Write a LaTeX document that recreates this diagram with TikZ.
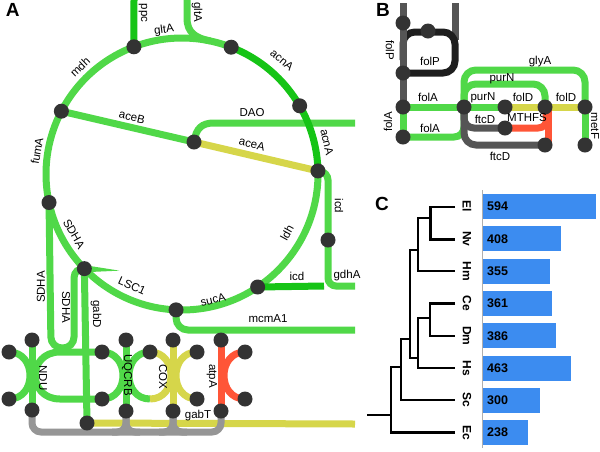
\documentclass[tikz,border=0pt]{standalone}
\usepackage{fontspec}
\setmainfont{Liberation Sans}
\usetikzlibrary{calc}
\pgfdeclarelayer{bg}
\pgfsetlayers{bg,main}
\definecolor{lg}{RGB}{80,216,72}
\definecolor{dg}{RGB}{22,196,22}
\definecolor{yl}{RGB}{214,214,74}
\definecolor{rd}{RGB}{255,85,55}
\definecolor{gr}{RGB}{150,150,150}
\definecolor{dotc}{RGB}{51,51,51}
\definecolor{bgr}{RGB}{85,85,85}
\definecolor{blk}{RGB}{30,30,30}
\definecolor{barc}{RGB}{60,140,240}
\definecolor{axc}{RGB}{175,175,175}
\begin{document}
\begin{tikzpicture}[x=1pt,y=-1pt,
 ln/.style={line width=7pt},
 lgl/.style={ln, draw=lg},
 dgl/.style={ln, draw=dg},
 yll/.style={ln, draw=yl},
 rdl/.style={ln, draw=rd},
 grl/.style={ln, draw=gr},
 bgl/.style={ln, draw=bgr},
 bkl/.style={ln, draw=blk},
 dot/.style={circle, fill=dotc, minimum size=15pt, inner sep=0pt},
 lbl/.style={font=\fontsize{11.5}{13}\selectfont, inner sep=0pt},
 plabel/.style={font=\fontsize{19}{22}\selectfont\bfseries, inner sep=0pt},
 num/.style={font=\fontsize{12.5}{14}\selectfont\bfseries, inner sep=0pt, anchor=west},
 sp/.style={font=\fontsize{12}{14}\selectfont\bfseries, inner sep=0pt, rotate=-90},
 tree/.style={line width=2.3pt, draw=black},
]
\useasboundingbox (0,0) rectangle (600,451);
\begin{pgfonlayer}{bg}
\fill[white] (0,0) rectangle (600,451);
\end{pgfonlayer}

% ---------------- Panel A nodes ----------------
\coordinate (C) at (182,174);
\node[dot] (gl) at ([shift={(C)}]-110.7:136) {};
\node[dot] (ac1) at ([shift={(C)}]-68.8:136) {};
\node[dot] (ac2) at ([shift={(C)}]-30.1:136) {};
\node[dot] (aa) at ([shift={(C)}]-1.3:136) {};
\node[dot] (ld) at ([shift={(C)}]56.2:136) {};
\node[dot] (su) at ([shift={(C)}]92.5:136) {};
\node[dot] (sd) at ([shift={(C)}]135.9:136) {};
\node[dot] (fu) at ([shift={(C)}]167.9:136) {};
\node[dot] (md) at ([shift={(C)}]207.5:136) {};
\node[dot] (xj) at (194,142) {};
\node[dot] (ic) at (328,240) {};
\node[dot] (gd) at (87,423) {};
\node[dot] (ndut) at (32,340) {};
\node[dot] (ndub) at (32,410) {};
\node[dot] (nduul) at (9,352) {};
\node[dot] (ndull) at (9,399) {};
\node[dot] (uqt) at (126,340) {};
\node[dot] (uqb) at (126,411) {};
\node[dot] (uqul) at (102,352) {};
\node[dot] (uqll) at (102,399) {};
\node[dot] (cxul) at (150,352) {};
\node[dot] (cxt) at (173,340) {};
\node[dot] (cxb) at (173,411) {};
\node[dot] (cxur) at (197,352) {};
\node[dot] (cxlr) at (197,399) {};
\node[dot] (att) at (221,340) {};
\node[dot] (atb) at (221,411) {};
\node[dot] (atur) at (245,352) {};
\node[dot] (atlr) at (245,399) {};
\coordinate (ppcT) at (134,0);
\coordinate (gltT) at (187,0);
\coordinate (gltJ) at ([shift={(C)}]-78:136);
\coordinate (daoE) at (355,123);
\coordinate (gdhE) at (355,286);
\coordinate (mcmE) at (355,330);
\coordinate (gabE) at (355,424);
\coordinate (cxv) at (150,399);

\begin{pgfonlayer}{bg}
\draw[lgl] (xj.center) .. controls (196,128) and (202,123) .. (214,123) -- (daoE);
\draw[dgl] (ppcT) -- (gl.center);
\draw[lgl] (gltT) -- (187,18) .. controls (187,33) and (196,38) .. (gltJ);
% circle
\draw[lgl] (gl.center) arc[start angle=-110.7, end angle=-68.8, radius=136];
\draw[dgl] (ac1.center) arc[start angle=-68.8, end angle=-30.1, radius=136];
\draw[dgl] (ac2.center) arc[start angle=-30.1, end angle=-1.3, radius=136];
\draw[lgl] (aa.center) arc[start angle=-1.3, end angle=249.3, radius=136];
% chords
\draw[lgl] (md.center) -- (xj.center);
\draw[yll] (xj.center) -- (aa.center);
\draw[dgl] (ld.center) -- (324,286);
\draw[lgl, rounded corners=8pt] (aa.center) -- (328,172) -- (328,286) -- (gdhE);
\draw[lgl, rounded corners=12pt] (su.center) -- (176,330) -- (mcmE);
\draw[lgl, rounded corners=11pt] (fu.center) -- (51,348) -- (74,348) -- (74,267) -- (sd.center);
\draw[lgl] (sd.center) -- (gd.center);
% complexes
\draw[lgl] (nduul.center) .. controls (37,352) and (37,399) .. (ndull.center);
\draw[lgl] (uqul.center) -- (60,352) .. controls (27,352) and (27,399) .. (60,399) -- (uqll.center);
\draw[lgl] (uqul.center) .. controls (130,352) and (130,399) .. (uqll.center);
\draw[lgl] (cxul.center) .. controls (122,352) and (122,399) .. (cxv);
\draw[yll] (cxul.center) .. controls (178,352) and (178,399) .. (cxv);
\draw[yll] (cxur.center) .. controls (169,352) and (169,399) .. (cxlr.center);
\draw[rdl] (atur.center) .. controls (217,352) and (217,399) .. (atlr.center);
\draw[lgl] (ndut.center) -- (ndub.center);
\draw[lgl] (uqt.center) -- (uqb.center);
\draw[yll] (cxt.center) -- (cxb.center);
\draw[rdl] (att.center) -- (atb.center);
\draw[yll] (gd.center) -- (gabE);
\draw[grl, rounded corners=9pt] (ndub.center) -- (32,432) -- (221,432) -- (atb.center);
\draw[grl, rounded corners=9pt] (uqb.center) -- (126,432) -- (112,432);
\draw[grl, rounded corners=9pt] (uqb.center) -- (126,432) -- (140,432);
\draw[grl, rounded corners=9pt] (cxb.center) -- (173,432) -- (159,432);
\draw[grl, rounded corners=9pt] (cxb.center) -- (173,432) -- (187,432);
\end{pgfonlayer}

% labels A
\node[plabel] (pA) at (12.7,9.7) {A};
\node[lbl, rotate=-90] (lppc) at (143,13) {ppc};
\node[lbl, rotate=-90] (lglt1) at (197,12) {gltA};
\node[lbl, rotate=7] (lglt2) at (164,30) {gltA};
\node[lbl, rotate=-40] (lacn1) at (282,60) {acnA};
\node[lbl, rotate=-77] (lacn2) at (327,142) {acnA};
\node[lbl, rotate=44] (lmdh) at (80,67) {mdh};
\node[lbl, rotate=80] (lfum) at (37,151) {fumA};
\node[lbl, rotate=-13] (lceb) at (132,117) {aceB};
\node[lbl, rotate=-13] (lcea) at (252,144) {aceA};
\node[lbl] (ldao) at (252,113) {DAO};
\node[lbl, rotate=-90] (licd1) at (339,206) {icd};
\node[lbl, rotate=61] (lldh) at (287,233) {ldh};
\node[lbl] (licd2) at (297,276) {icd};
\node[lbl] (lgdh) at (347,276) {gdhA};
\node[lbl, rotate=14] (lsuc) at (213,300) {sucA};
\node[lbl, rotate=-24] (llsc) at (132,286) {LSC1};
\node[lbl, rotate=-60] (lsdh1) at (74,234) {SDHA};
\node[lbl, rotate=90] (lsdh2) at (41,287) {SDHA};
\node[lbl, rotate=-90] (lsdh3) at (66,307) {SDHA};
\node[lbl, rotate=-90] (lgabd) at (96,314) {gabD};
\node[lbl] (lmcm) at (268,319) {mcmA1};
\node[lbl, rotate=-90] (lndu) at (43,378) {NDU};
\node[lbl, rotate=-90] (luq) at (127,375) {UQCRB};
\node[lbl, rotate=-90] (lcox) at (163,377) {COX};
\node[lbl, rotate=-90] (latp) at (212,376) {atpA};
\node[lbl] (lgabt) at (198,416) {gabT};

% ---------------- Panel B ----------------
\node[dot] (b1) at (403,23) {};
\node[dot] (b2) at (428,31) {};
\node[dot] (b3) at (403,73) {};
\node[dot] (b4) at (403,107) {};
\node[dot] (b5) at (464,107) {};
\node[dot] (b6) at (505,107) {};
\node[dot] (b7) at (545,107) {};
\node[dot] (b8) at (585,107) {};
\node[dot] (b9) at (403,137) {};
\node[dot] (b10) at (505,128) {};
\node[dot] (b11) at (545,145) {};
\node[dot] (b12) at (585,145) {};
\coordinate (bT1) at (403,3);
\coordinate (bT2) at (455,3);
\begin{pgfonlayer}{bg}
\draw[bgl] (bT2) -- (455,40);
\draw[bkl, rounded corners=12pt] (403,60) -- (403,32) -- (455,32) -- (455,73) -- (b3.center);
\draw[bgl] (bT1) -- (b4.center);
\draw[lgl, rounded corners=12pt] (b5.center) -- (464,70) -- (585,70) -- (b8.center);
\draw[lgl, rounded corners=12pt] (b5.center) -- (464,84) -- (545,84) -- (b7.center);
\draw[lgl] (b4.center) -- (b5.center);
\draw[lgl] (b4.center) -- (b9.center);
\draw[lgl, rounded corners=10pt] (b9.center) -- (464,137) -- (b5.center);
\draw[lgl] (b5.center) -- (b6.center);
\draw[yll] (b6.center) -- (b7.center);
\draw[yll] (b7.center) -- (b8.center);
\draw[lgl] (b8.center) -- (b12.center);
\draw[bgl, rounded corners=12pt] (b5.center) -- (464,145) -- (b11.center);
\draw[bgl, rounded corners=10pt] (b5.center) -- (464,128) -- (b10.center);
\draw[rdl, rounded corners=10pt] (b10.center) -- (548,128) -- (b7.center);
\draw[rdl] (548,107) -- (548,145);
\end{pgfonlayer}
\node[plabel] (pB) at (383,9.5) {B};
\node[lbl, rotate=-90] (lfolp1) at (390,50) {folP};
\node[lbl] (lfolp2) at (430,61) {folP};
\node[lbl] (lfola1) at (428,97) {folA};
\node[lbl, rotate=90] (lfola2) at (388,122) {folA};
\node[lbl] (lfola3) at (430,128) {folA};
\node[lbl] (lpurn1) at (483,98) {purN};
\node[lbl] (lpurn2) at (502,79) {purN};
\node[lbl] (lglya) at (540,62) {glyA};
\node[lbl] (lfold1) at (523,97) {folD};
\node[lbl] (lfold2) at (566,97) {folD};
\node[lbl, rotate=-90] (lmetf) at (595,126) {metF};
\node[lbl] (lftcd1) at (485,119) {ftcD};
\node[lbl] (lmthfs) at (527,118) {MTHFS};
\node[lbl] (lftcd2) at (500,156) {ftcD};

% ---------------- Panel C ----------------
\node[plabel] (pC) at (382,204) {C};
\draw[axc, line width=1pt] (482,190) -- (482,448);
\foreach \v/\s [count=\i from 0] in {594/El,408/Nv,355/Hm,361/Ce,386/Dm,463/Hs,300/Sc,238/Ec}{
  \pgfmathsetmacro{\yc}{206.5+32.3*\i}
  \fill[barc] (483,\yc-12.5) rectangle ({483+0.19*\v},\yc+12.5);
  \node[num] (n\i) at (487,\yc) {\v};
  \node[sp] (s\i) at (467,\yc) {\s};
}
\draw[tree] (455,207) -| (430.5,239.5) -- (455,239.5);
\draw[tree] (430.5,217.7) -| (418,271.1) -- (455,271.1);
\draw[tree] (455,303.4) -| (430,335.7) -- (455,335.7);
\draw[tree] (430,318.3) -| (418,368) -- (455,368);
\draw[tree] (418,250) -| (410,357.7) -- (418,357.7);
\draw[tree] (410,339) -| (401,400.3) -- (455,400.3);
\draw[tree] (401,366.7) -| (391,432.6) -- (455,432.6);
\draw[tree] (367,415) -- (391,415);
\end{tikzpicture}
\end{document}
